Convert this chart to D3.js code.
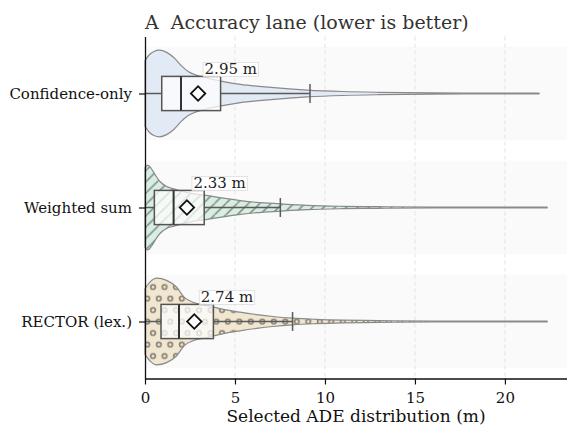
<!DOCTYPE html>
<html>
<head>
<meta charset="utf-8">
<script src="https://cdn.jsdelivr.net/npm/d3@7"></script>
<style>
  html, body { margin: 0; padding: 0; background: #ffffff; }
  svg { display: block; }
  text { font-family: "DejaVu Serif", serif; }
</style>
</head>
<body>
<div id="chart"></div>
<script>
// ---------------- data ----------------
const categories = ["Confidence-only", "Weighted sum", "RECTOR (lex.)"];
const q1Values = [0.93, 0.52, 0.89];
const medianValues = [2.0, 1.59, 1.89];
const q3Values = [4.2, 3.29, 3.8];
const meanValues = [2.95, 2.33, 2.74];
const whiskerLowValues = [0, 0, 0];
const whiskerHighValues = [9.17, 7.52, 8.2];
const meanLabels = ["2.95 m", "2.33 m", "2.74 m"];
const xTickValues = [0, 5, 10, 15, 20];

// violin profiles (ADE value, relative density)
const confGridX = [0, 0.25, 0.5, 0.8, 1.2, 1.6, 2.0, 2.4, 2.8, 3.3, 4.3, 5.3, 7, 9, 11, 13, 16, 19, 21.9];
const confDensity = [0.76, 0.9, 0.97, 1.0, 0.95, 0.83, 0.65, 0.51, 0.43, 0.37, 0.28, 0.21, 0.14, 0.08, 0.046, 0.028, 0.014, 0.009, 0.007];
const wsumGridX = [0, 0.15, 0.35, 0.56, 0.83, 1.2, 1.6, 2.5, 3.4, 4.35, 5.3, 6.2, 7.5, 9, 11, 13, 16, 19, 22.35];
const wsumDensity = [0.92, 0.98, 0.9, 0.76, 0.6, 0.485, 0.43, 0.33, 0.28, 0.215, 0.16, 0.12, 0.085, 0.05, 0.028, 0.018, 0.012, 0.008, 0.007];
const rectorGridX = [0, 0.3, 0.65, 1.2, 1.76, 2.2, 2.7, 3.43, 4.35, 5.28, 6.2, 7.1, 8.2, 9.5, 11, 13, 16, 19, 22.35];
const rectorDensity = [0.76, 0.92, 1.0, 0.95, 0.79, 0.55, 0.44, 0.37, 0.28, 0.215, 0.16, 0.115, 0.076, 0.05, 0.032, 0.02, 0.012, 0.008, 0.007];

const profilesX = [confGridX, wsumGridX, rectorGridX];
const profilesD = [confDensity, wsumDensity, rectorDensity];

// ---------------- styles ----------------
const fillColors = ["#e2eaf5", "#d9eee2", "#f1e7d0"];
const hatchTypes = ["none", "diag", "circle"];
const W = 567, H = 428;
const margin = { left: 145, right: 0, top: 36.5, bottom: 49.5 };
const xMax = 23.45;
const violinHalf = 0.38;
const boxHalf = 0.15;
const bandHalf = 0.41;

const svg = d3.select("#chart").append("svg")
  .attr("width", W).attr("height", H);

const x = d3.scaleLinear().domain([0, xMax]).range([margin.left, W - margin.right]);
const y = d3.scaleLinear().domain([-0.5, 2.5]).range([margin.top, H - margin.bottom]);

// patterns
const defs = svg.append("defs");
const hs = 11.3;
const pd = defs.append("pattern").attr("id", "hatch-diag")
  .attr("patternUnits", "userSpaceOnUse").attr("width", hs).attr("height", hs);
pd.append("rect").attr("width", hs).attr("height", hs).attr("fill", fillColors[1]);
[[-hs, hs, 0, 0], [0, hs, hs, 0], [hs, hs, 2 * hs, 0]].forEach(([a, b, c, d]) => {
  pd.append("line").attr("x1", a).attr("y1", b).attr("x2", c).attr("y2", d)
    .attr("stroke", "#7f9087").attr("stroke-width", 1.5);
});
const cs = 11.5;
const pc = defs.append("pattern").attr("id", "hatch-circle")
  .attr("patternUnits", "userSpaceOnUse").attr("width", cs).attr("height", cs * 2)
  .attr("x", 147.3 - cs / 2).attr("y", y(2) - cs / 2);
pc.append("rect").attr("width", cs).attr("height", cs * 2).attr("fill", fillColors[2]);
[[cs / 2, cs / 2], [0, cs * 1.5], [cs, cs * 1.5]].forEach(([cx, cy]) => {
  pc.append("circle").attr("cx", cx).attr("cy", cy).attr("r", 2.3)
    .attr("fill", "none").attr("stroke", "#847e73").attr("stroke-width", 1.6);
});

// lane bands
svg.append("g").selectAll("rect").data(categories).join("rect")
  .attr("x", x(0)).attr("width", x(xMax) - x(0))
  .attr("y", (d, i) => y(i - bandHalf))
  .attr("height", (d, i) => y(i + bandHalf) - y(i - bandHalf))
  .attr("fill", "#fafafa");

// vertical dashed grid
svg.append("g").selectAll("line").data(xTickValues.filter(v => v > 0)).join("line")
  .attr("x1", d => x(d)).attr("x2", d => x(d))
  .attr("y1", y(-0.5)).attr("y2", y(2.5))
  .attr("stroke", "#e3e3e3").attr("stroke-width", 1)
  .attr("stroke-dasharray", "4,3");

// violins
categories.forEach((cat, i) => {
  const pts = profilesX[i].map((v, k) => ({ v, d: profilesD[i][k] }));
  const area = d3.area()
    .x(p => x(p.v))
    .y0(p => y(i - violinHalf * p.d))
    .y1(p => y(i + violinHalf * p.d))
    .curve(d3.curveMonotoneX);
  const fill = hatchTypes[i] === "diag" ? "url(#hatch-diag)"
             : hatchTypes[i] === "circle" ? "url(#hatch-circle)" : fillColors[i];
  svg.append("path").attr("d", area(pts))
    .attr("fill", fill)
    .attr("stroke", "#8a8a8a").attr("stroke-width", 1.2)
    .attr("stroke-linejoin", "round");
});

// boxes & whiskers
categories.forEach((cat, i) => {
  const g = svg.append("g");
  const cy = y(i);
  g.append("line").attr("x1", x(whiskerLowValues[i])).attr("x2", x(q1Values[i]))
    .attr("y1", cy).attr("y2", cy).attr("stroke", "#5a5a5a").attr("stroke-width", 1.5);
  g.append("line").attr("x1", x(q3Values[i])).attr("x2", x(whiskerHighValues[i]))
    .attr("y1", cy).attr("y2", cy).attr("stroke", "#5a5a5a").attr("stroke-width", 1.5);
  g.append("line").attr("x1", x(whiskerHighValues[i])).attr("x2", x(whiskerHighValues[i]))
    .attr("y1", y(i - 0.083)).attr("y2", y(i + 0.083))
    .attr("stroke", "#5a5a5a").attr("stroke-width", 1.5);
  g.append("rect")
    .attr("x", x(q1Values[i])).attr("width", x(q3Values[i]) - x(q1Values[i]))
    .attr("y", y(i - boxHalf)).attr("height", y(i + boxHalf) - y(i - boxHalf))
    .attr("fill", "rgba(255,255,255,0.72)")
    .attr("stroke", "#555").attr("stroke-width", 1.5);
  g.append("line").attr("x1", x(medianValues[i])).attr("x2", x(medianValues[i]))
    .attr("y1", y(i - boxHalf)).attr("y2", y(i + boxHalf))
    .attr("stroke", "#333").attr("stroke-width", 2);
  g.append("path")
    .attr("d", d3.symbol(d3.symbolSquare, 104)())
    .attr("transform", `translate(${x(meanValues[i])},${cy}) rotate(45)`)
    .attr("fill", "#fff").attr("stroke", "#111").attr("stroke-width", 1.8);

  // mean label
  const lx = x(meanValues[i]) + 5;
  const lb = y(i - boxHalf);
  const lg = g.append("g");
  const t = lg.append("text").attr("x", lx + 1.5).attr("y", lb - 2.2)
    .attr("font-size", 15).attr("fill", "#222").text(meanLabels[i]);
  const bb = t.node().getBBox();
  lg.insert("rect", "text")
    .attr("x", lx).attr("y", lb - 14)
    .attr("width", bb.width + 3).attr("height", 14)
    .attr("fill", "rgba(255,255,255,0.85)").attr("stroke", "#dddddd").attr("stroke-width", 0.8);
});

// axes
const xAxis = svg.append("g").attr("transform", `translate(0,${y(2.5)})`)
  .call(d3.axisBottom(x).tickValues(xTickValues).tickFormat(d3.format("d")).tickSize(6).tickSizeOuter(0));
xAxis.select(".domain").attr("stroke", "#111").attr("stroke-width", 1.3);
xAxis.selectAll(".tick line").attr("stroke", "#111").attr("stroke-width", 1.2);
xAxis.selectAll(".tick text").attr("font-size", 15).attr("fill", "#111")
  .attr("font-family", "DejaVu Serif, serif").attr("dy", "1.02em");

const yAxis = svg.append("g").attr("transform", `translate(${x(0)},0)`)
  .call(d3.axisLeft(y).tickValues([0, 1, 2]).tickFormat(i => categories[i]).tickSize(6).tickSizeOuter(0));
yAxis.select(".domain").attr("stroke", "#111").attr("stroke-width", 1.3);
yAxis.selectAll(".tick line").attr("stroke", "#111").attr("stroke-width", 1.2);
yAxis.selectAll(".tick text").attr("font-size", 15).attr("fill", "#111")
  .attr("font-family", "DejaVu Serif, serif").attr("x", -13);

// axis title
svg.append("text").attr("x", (x(0) + x(xMax)) / 2).attr("y", 422)
  .attr("text-anchor", "middle").attr("font-size", 17).attr("fill", "#111")
  .text("Selected ADE distribution (m)");

// chart title
svg.append("text").attr("x", x(0)).attr("y", 28.5)
  .attr("font-size", 19).attr("fill", "#333")
  .text("A\u00a0\u00a0Accuracy lane (lower is better)");
</script>
</body>
</html>
